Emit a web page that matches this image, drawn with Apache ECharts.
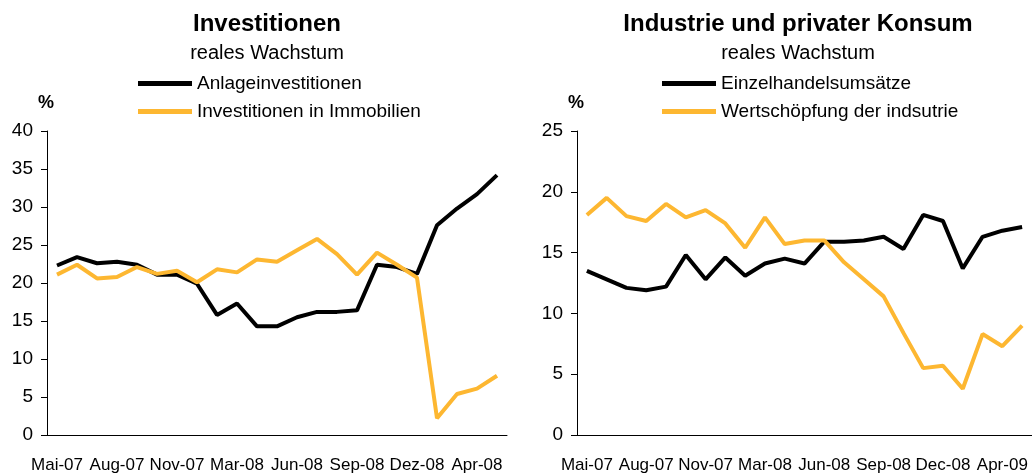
<!DOCTYPE html>
<html>
<head>
<meta charset="utf-8">
<script src="https://cdn.jsdelivr.net/npm/echarts@6/dist/echarts.min.js"></script>
<style>
  html, body { margin: 0; padding: 0; background: #fff; }
  #chart { width: 1032px; height: 474px; }
</style>
</head>
<body>
<div id="chart"></div>
<script>
// Monatswerte Mai-07 .. Mai-09 (Jan/Feb zusammengefasst)
let months = ['Mai-07', 'Jun-07', 'Jul-07', 'Aug-07', 'Sep-07', 'Okt-07', 'Nov-07', 'Dez-07',
    'Feb-08', 'Mar-08', 'Apr-08', 'Mai-08', 'Jun-08', 'Jul-08', 'Aug-08', 'Sep-08',
    'Okt-08', 'Nov-08', 'Dez-08', 'Feb-09', 'Mar-09', 'Apr-09', 'Mai-09'];
let labels_left = ['Mai-07', '', '', 'Aug-07', '', '', 'Nov-07', '', '', 'Mar-08', '', '', 'Jun-08', '', '',
    'Sep-08', '', '', 'Dez-08', '', '', 'Apr-08', ''];
let labels_right = ['Mai-07', '', '', 'Aug-07', '', '', 'Nov-07', '', '', 'Mar-08', '', '', 'Jun-08', '', '',
    'Sep-08', '', '', 'Dec-08', '', '', 'Apr-09', ''];

let anlage = [22.3, 23.4, 22.6, 22.8, 22.4, 21.1, 21.1, 19.9, 15.8, 17.3, 14.3, 14.3, 15.5, 16.2, 16.2, 16.4,
    22.4, 22.1, 21.2, 27.6, 29.8, 31.7, 34.2];
let immobilien = [21.1, 22.4, 20.6, 20.8, 22.1, 21.2, 21.6, 20.1, 21.8, 21.4, 23.1, 22.8, 24.3, 25.8, 23.8, 21.1,
    24.0, 22.4, 20.7, 2.2, 5.4, 6.1, 7.8];
let einzelhandel = [13.5, 12.8, 12.1, 11.9, 12.2, 14.8, 12.8, 14.6, 13.1, 14.1, 14.5, 14.1, 15.9, 15.9, 16.0, 16.3,
    15.3, 18.1, 17.6, 13.7, 16.3, 16.8, 17.1];
let industrie = [18.1, 19.5, 18.0, 17.6, 19.0, 17.9, 18.5, 17.4, 15.4, 17.9, 15.7, 16.0, 16.0, 14.2, 12.8, 11.4,
    8.4, 5.5, 5.7, 3.8, 8.3, 7.3, 9.0];

const BLACK = '#000000';
const ORANGE = '#FDB731';
const FONT = 'Liberation Sans, Arial, sans-serif';

let chart = echarts.init(document.getElementById('chart'));

function xAxis(idx, lbls) {
    return {
        type: 'category', gridIndex: idx, data: months, boundaryGap: true,
        axisLine: { lineStyle: { color: '#000', width: 1 } },
        axisTick: { interval: 0, length: 7, lineStyle: { color: '#000' } },
        axisLabel: {
            interval: 0, margin: 22, color: '#000', fontFamily: FONT, fontSize: 17,
            formatter: function (v, i) { return lbls[i]; }
        }
    };
}

function yAxis(idx, max) {
    return {
        type: 'value', gridIndex: idx, min: 0, max: max, interval: 5,
        splitLine: { show: false },
        axisLine: { show: true, lineStyle: { color: '#000', width: 1 } },
        axisTick: { show: true, length: 6, lineStyle: { color: '#000' } },
        axisLabel: { margin: 14, color: '#000', fontFamily: FONT, fontSize: 19 }
    };
}

function line(name, data, color, idx) {
    return {
        name: name, type: 'line', data: data, xAxisIndex: idx, yAxisIndex: idx,
        showSymbol: false, symbol: 'none', animation: false,
        lineStyle: { color: color, width: 4 }, itemStyle: { color: color }
    };
}

let legendBase = {
    orient: 'vertical', icon: 'rect', itemWidth: 54, itemHeight: 5, itemGap: 9, padding: 0,
    textStyle: { color: '#000', fontFamily: FONT, fontSize: 19 }, itemTextGap: 3
};

chart.setOption({
    animation: false,
    grid: [
        { left: 47, right: 525, top: 131, bottom: 39 },
        { left: 577, right: -5, top: 131, bottom: 39 }
    ],
    title: [
        { text: 'Investitionen', left: 262, top: 7, textAlign: 'center',
          textStyle: { fontFamily: FONT, fontSize: 24, fontWeight: 'bold', color: '#000' } },
        { text: 'reales Wachstum', left: 262, top: 38, textAlign: 'center',
          textStyle: { fontFamily: FONT, fontSize: 20, fontWeight: 'normal', color: '#000' } },
        { text: 'Industrie und privater Konsum', left: 793, top: 7, textAlign: 'center',
          textStyle: { fontFamily: FONT, fontSize: 24, fontWeight: 'bold', color: '#000' } },
        { text: 'reales Wachstum', left: 793, top: 38, textAlign: 'center',
          textStyle: { fontFamily: FONT, fontSize: 20, fontWeight: 'normal', color: '#000' } },
        { text: '%', left: 33, top: 89,
          textStyle: { fontFamily: FONT, fontSize: 18, fontWeight: 'bold', color: '#000' } },
        { text: '%', left: 563, top: 89,
          textStyle: { fontFamily: FONT, fontSize: 18, fontWeight: 'bold', color: '#000' } }
    ],
    legend: [
        Object.assign({ left: 138, top: 74, data: ['Anlageinvestitionen', 'Investitionen in Immobilien'] }, legendBase),
        Object.assign({ left: 662, top: 74, data: ['Einzelhandelsumsätze', 'Wertschöpfung der indsutrie'] }, legendBase)
    ],
    xAxis: [xAxis(0, labels_left), xAxis(1, labels_right)],
    yAxis: [yAxis(0, 40), yAxis(1, 25)],
    series: [
        line('Anlageinvestitionen', anlage, BLACK, 0),
        line('Investitionen in Immobilien', immobilien, ORANGE, 0),
        line('Einzelhandelsumsätze', einzelhandel, BLACK, 1),
        line('Wertschöpfung der indsutrie', industrie, ORANGE, 1)
    ]
});
</script>
</body>
</html>
